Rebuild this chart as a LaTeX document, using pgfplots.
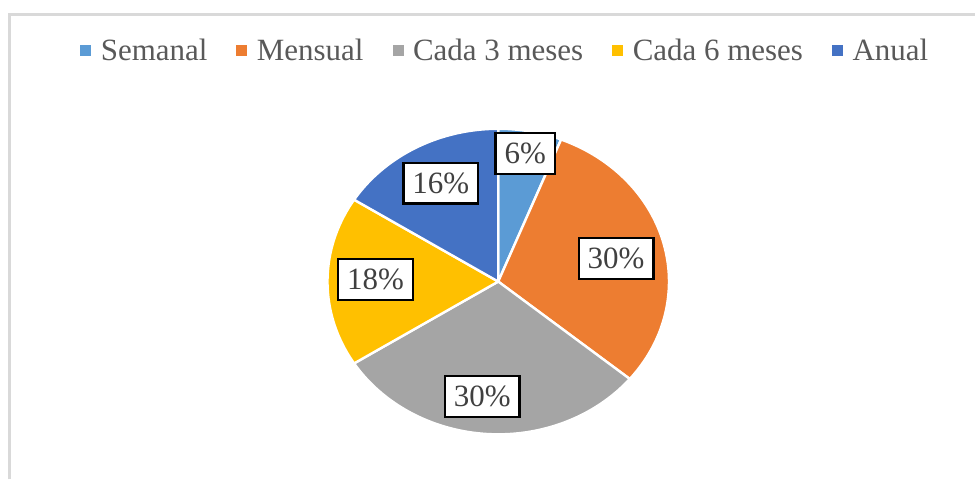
\documentclass[border=0pt]{standalone}
\usepackage{pgfplots}
\pgfplotsset{compat=1.18}
\usepackage{fontspec}
\setmainfont{Liberation Serif}
\definecolor{cSem}{HTML}{5B9BD5}
\definecolor{cMen}{HTML}{ED7D31}
\definecolor{cC3}{HTML}{A5A5A5}
\definecolor{cC6}{HTML}{FFC000}
\definecolor{cAnu}{HTML}{4472C4}
\definecolor{txt}{HTML}{595959}
\definecolor{lbl}{HTML}{404040}
\definecolor{frame}{HTML}{D9D9D9}
\begin{document}
\begin{tikzpicture}
\begin{axis}[
  width=488pt, height=240pt, scale only axis,
  xmin=0, xmax=976, ymin=0, ymax=480,
  hide axis, clip=false,
  legend columns=5,
  legend image code/.code={\fill[#1, draw=none] (0pt,-2.4pt) rectangle (5.5pt,2.9pt);},
  legend style={draw=none, fill=none, at={(axis cs:505,429)}, anchor=center,
    font=\fontsize{15.5}{18}\selectfont, text=txt,
    nodes={inner xsep=0pt, inner ysep=1pt},
    /tikz/every odd column/.append style={column sep=4.8pt},
    /tikz/every even column/.append style={column sep=14.5pt}},
]
\path (axis cs:0,0) (axis cs:976,480);
\draw[frame, line width=1.5pt] (axis cs:9.5,0) -- (axis cs:9.5,465) -- (axis cs:976,465);
% slices: Semanal 6, Mensual 30, Cada 3 meses 30, Cada 6 meses 18, Anual 16 (clockwise from top)
\addplot[forget plot, fill=cSem, draw=white, line width=1.2pt, line join=round, domain=68.4:90, samples=20]
  ({499+171*cos(x)},{198+153*sin(x)}) -- (axis cs:499,198) -- cycle;
\addplot[forget plot, fill=cMen, draw=white, line width=1.2pt, line join=round, domain=-39.6:68.4, samples=80]
  ({499+171*cos(x)},{198+153*sin(x)}) -- (axis cs:499,198) -- cycle;
\addplot[forget plot, fill=cC3, draw=white, line width=1.2pt, line join=round, domain=-147.6:-39.6, samples=80]
  ({499+171*cos(x)},{198+153*sin(x)}) -- (axis cs:499,198) -- cycle;
\addplot[forget plot, fill=cC6, draw=white, line width=1.2pt, line join=round, domain=-212.4:-147.6, samples=50]
  ({499+171*cos(x)},{198+153*sin(x)}) -- (axis cs:499,198) -- cycle;
\addplot[forget plot, fill=cAnu, draw=white, line width=1.2pt, line join=round, domain=-270:-212.4, samples=50]
  ({499+171*cos(x)},{198+153*sin(x)}) -- (axis cs:499,198) -- cycle;
\addlegendimage{fill=cSem}\addlegendentry{Semanal}
\addlegendimage{fill=cMen}\addlegendentry{Mensual}
\addlegendimage{fill=cC3}\addlegendentry{Cada 3 meses}
\addlegendimage{fill=cC6}\addlegendentry{Cada 6 meses}
\addlegendimage{fill=cAnu}\addlegendentry{Anual}
\tikzset{lab/.style={draw=black, line width=1.2pt, fill=white, text=lbl,
  font=\fontsize{15.5}{18}\selectfont, inner xsep=4.5pt, inner ysep=0pt, minimum height=20.5pt}}
\node[lab] at (axis cs:526,326) {6\%};
\node[lab] at (axis cs:617,221) {30\%};
\node[lab] at (axis cs:483,83) {30\%};
\node[lab] at (axis cs:376,200) {18\%};
\node[lab] at (axis cs:441.5,296.5) {16\%};
\end{axis}
\end{tikzpicture}
\end{document}
